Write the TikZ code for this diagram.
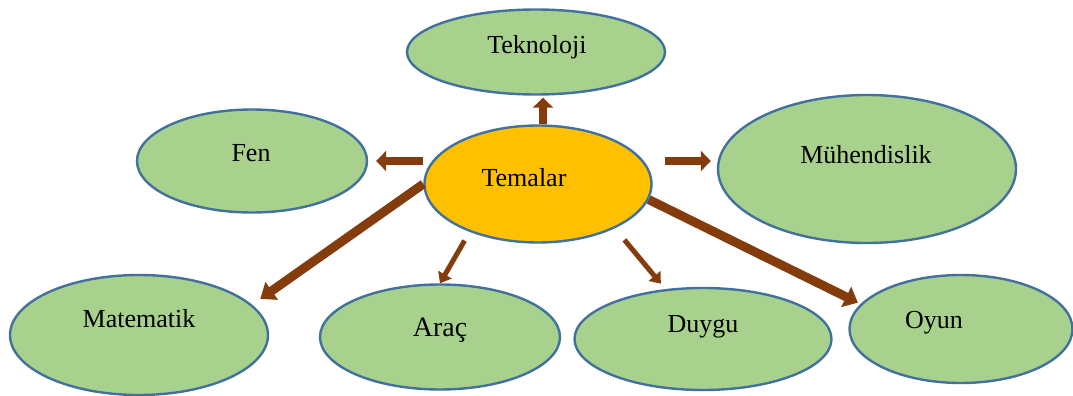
\documentclass[tikz,border=0pt]{standalone}
\usepackage{fontspec}
\setmainfont{Liberation Serif}
\usepackage{tikz}
\usetikzlibrary{arrows.meta,shapes.geometric,positioning}
\definecolor{themegreen}{HTML}{A9D18E}
\definecolor{hubgold}{HTML}{FFC000}
\definecolor{rimblue}{HTML}{41719C}
\definecolor{arrowbrown}{HTML}{843C0C}

\begin{document}
\begin{tikzpicture}[node distance=2cm, on grid,
	every label/.style={font=\fontsize{13pt}{15pt}\selectfont}]

	\tikzset{
		theme/.style = {ellipse, draw=rimblue, line width=1.2pt, fill=themegreen,
			inner sep=0pt},
		hub/.style = {theme, fill=hubgold},
		link/.style = {draw=arrowbrown, line width=4.5pt,
			-{Triangle[width=11pt,length=6.5pt]}},
		thinlink/.style = {draw=arrowbrown, line width=2.5pt,
			-{Triangle[width=7.5pt,length=5pt]}},
		blocklink/.style = {draw=arrowbrown, line width=3.75pt,
			-{Triangle[width=10pt,length=5pt]}}
	}

	\useasboundingbox (0,0) rectangle (536.5pt,-198pt);

	\node[hub, minimum width=113.5pt, minimum height=58.5pt,
		label={[shift={(-7pt,3pt)}]center:Temalar}] (temalar) at (269pt,-92pt) {};

	\node[theme, minimum width=129pt, minimum height=42.5pt,
		label={[shift={(0.5pt,2.5pt)}]center:Teknoloji}] (teknoloji) [above = 66pt of temalar, xshift = -1pt] {};
	\node[theme, minimum width=115pt, minimum height=51.5pt,
		label={[shift={(-0.5pt,4pt)}]center:Fen}] (fen) [left = 143pt of temalar, yshift = 11.5pt] {};
	\node[theme, minimum width=149pt, minimum height=74pt,
		label={[shift={(-0.5pt,7pt)}]center:Mühendislik}] (muhendislik) [right = 164.5pt of temalar, yshift = 7.5pt] {};

	\node[theme, minimum width=129pt, minimum height=60pt,
		label={[shift={(0pt,8pt)}]center:Matematik}] (matematik) [below = 75.5pt of temalar, xshift = -199.5pt] {};
	\node[theme, minimum width=120pt, minimum height=52.5pt,
		label={[shift={(0pt,3.5pt)},font=\fontsize{14pt}{16pt}\selectfont]center:Araç}] (arac) [below = 76.5pt of temalar, xshift = -49pt] {};
	\node[theme, minimum width=128.5pt, minimum height=51pt,
		label={[shift={(0pt,6pt)}]center:Duygu}] (duygu) [below = 77.5pt of temalar, xshift = 82.5pt] {};
	\node[theme, minimum width=111.5pt, minimum height=54pt,
		label={[shift={(-13.5pt,3pt)}]center:Oyun}] (oyun) [below = 72.5pt of temalar, xshift = 211.5pt] {};

	% block arrows
	\path
	([xshift = 2.5pt]temalar.north) edge [blocklink, line width=4pt, shorten >=1pt] ([xshift = 3.5pt]teknoloji.south)
	(temalar.west |- fen.east) edge [blocklink, shorten >=4pt] (fen.east)
	(temalar.east |- fen.east) edge [blocklink, shorten <=6pt, shorten >=3pt] (muhendislik.west |- fen.east)
	;

	% diagonal arrows
	\path
	(temalar.west) edge [link, -{Triangle[width=10.5pt,length=7pt]}, shorten >=5pt] (matematik.15)
	(temalar.215) edge [thinlink, shorten <=5pt] (arac.north)
	(temalar.330) edge [thinlink, shorten <=7.5pt, shorten >=3.5pt] (duygu.127)
	(temalar.352) edge [link, shorten >=1.5pt] (oyun.166)
	;

\end{tikzpicture}
\end{document}
